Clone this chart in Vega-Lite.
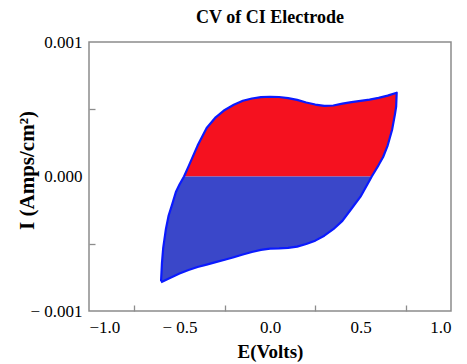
{
  "$schema": "https://vega.github.io/schema/vega-lite/v6.json",
  "width": 362,
  "height": 269,
  "autosize": "none",
  "padding": {"left": 89, "top": 42, "right": 16, "bottom": 53},
  "background": "white",
  "title": {"text": "CV of CI Electrode", "font": "Liberation Serif", "fontSize": 18, "fontWeight": "bold", "color": "black", "offset": 6, "anchor": "middle"},
  "config": {"font": "Liberation Serif", "view": {"stroke": "#8c8c8c", "strokeWidth": 1.5}, "axis": {"labelFont": "Liberation Serif", "titleFont": "Liberation Serif"}},
  "datasets": {
    "fill": [
      {"part": "pos", "E": -0.475, "top": 0, "bottom": 0},
      {"part": "pos", "E": -0.45, "top": 0.000075, "bottom": 0},
      {"part": "pos", "E": -0.4, "top": 0.00023, "bottom": 0},
      {"part": "pos", "E": -0.35, "top": 0.00036, "bottom": 0},
      {"part": "pos", "E": -0.3, "top": 0.00044, "bottom": 0},
      {"part": "pos", "E": -0.25, "top": 0.000495, "bottom": 0},
      {"part": "pos", "E": -0.2, "top": 0.000533, "bottom": 0},
      {"part": "pos", "E": -0.15, "top": 0.000563, "bottom": 0},
      {"part": "pos", "E": -0.1, "top": 0.00058, "bottom": 0},
      {"part": "pos", "E": -0.05, "top": 0.00059, "bottom": 0},
      {"part": "pos", "E": 0, "top": 0.000593, "bottom": 0},
      {"part": "pos", "E": 0.05, "top": 0.000591, "bottom": 0},
      {"part": "pos", "E": 0.1, "top": 0.000583, "bottom": 0},
      {"part": "pos", "E": 0.15, "top": 0.00057, "bottom": 0},
      {"part": "pos", "E": 0.2, "top": 0.00055, "bottom": 0},
      {"part": "pos", "E": 0.25, "top": 0.000535, "bottom": 0},
      {"part": "pos", "E": 0.3, "top": 0.000525, "bottom": 0},
      {"part": "pos", "E": 0.35, "top": 0.000528, "bottom": 0},
      {"part": "pos", "E": 0.4, "top": 0.000542, "bottom": 0},
      {"part": "pos", "E": 0.45, "top": 0.000553, "bottom": 0},
      {"part": "pos", "E": 0.5, "top": 0.000562, "bottom": 0},
      {"part": "pos", "E": 0.55, "top": 0.000572, "bottom": 0},
      {"part": "pos", "E": 0.562, "top": 0.000574, "bottom": 0},
      {"part": "pos", "E": 0.6, "top": 0.000585, "bottom": 0.000085},
      {"part": "pos", "E": 0.625, "top": 0.000593, "bottom": 0.000145},
      {"part": "pos", "E": 0.65, "top": 0.000601, "bottom": 0.00023},
      {"part": "pos", "E": 0.675, "top": 0.00061, "bottom": 0.00035},
      {"part": "pos", "E": 0.69, "top": 0.000617, "bottom": 0.00046},
      {"part": "pos", "E": 0.697, "top": 0.00062, "bottom": 0.00052},
      {"part": "pos", "E": 0.7, "top": 0.000623, "bottom": 0.00062},
      {"part": "neg", "E": -0.602, "top": -0.00078, "bottom": -0.000787},
      {"part": "neg", "E": -0.597, "top": -0.000645, "bottom": -0.000783},
      {"part": "neg", "E": -0.59, "top": -0.00053, "bottom": -0.000778},
      {"part": "neg", "E": -0.575, "top": -0.00039, "bottom": -0.000766},
      {"part": "neg", "E": -0.56, "top": -0.00029, "bottom": -0.000758},
      {"part": "neg", "E": -0.54, "top": -0.000205, "bottom": -0.000745},
      {"part": "neg", "E": -0.52, "top": -0.000115, "bottom": -0.000732},
      {"part": "neg", "E": -0.5, "top": -0.00006, "bottom": -0.000721},
      {"part": "neg", "E": -0.475, "top": 0, "bottom": -0.000709},
      {"part": "neg", "E": -0.45, "top": 0, "bottom": -0.000695},
      {"part": "neg", "E": -0.4, "top": 0, "bottom": -0.000673},
      {"part": "neg", "E": -0.35, "top": 0, "bottom": -0.000655},
      {"part": "neg", "E": -0.3, "top": 0, "bottom": -0.000637},
      {"part": "neg", "E": -0.25, "top": 0, "bottom": -0.000619},
      {"part": "neg", "E": -0.2, "top": 0, "bottom": -0.0006},
      {"part": "neg", "E": -0.15, "top": 0, "bottom": -0.00058},
      {"part": "neg", "E": -0.1, "top": 0, "bottom": -0.000561},
      {"part": "neg", "E": -0.05, "top": 0, "bottom": -0.000546},
      {"part": "neg", "E": 0, "top": 0, "bottom": -0.000536},
      {"part": "neg", "E": 0.05, "top": 0, "bottom": -0.000534},
      {"part": "neg", "E": 0.1, "top": 0, "bottom": -0.00053},
      {"part": "neg", "E": 0.15, "top": 0, "bottom": -0.000521},
      {"part": "neg", "E": 0.2, "top": 0, "bottom": -0.000502},
      {"part": "neg", "E": 0.25, "top": 0, "bottom": -0.000477},
      {"part": "neg", "E": 0.3, "top": 0, "bottom": -0.00044},
      {"part": "neg", "E": 0.35, "top": 0, "bottom": -0.000392},
      {"part": "neg", "E": 0.4, "top": 0, "bottom": -0.00033},
      {"part": "neg", "E": 0.45, "top": 0, "bottom": -0.00024},
      {"part": "neg", "E": 0.5, "top": 0, "bottom": -0.00015},
      {"part": "neg", "E": 0.55, "top": 0, "bottom": -0.00003},
      {"part": "neg", "E": 0.562, "top": 0, "bottom": 0}
    ],
    "loop": [
      {"i": 1, "E": -0.602, "I": -0.00078},
      {"i": 2, "E": -0.597, "I": -0.000645},
      {"i": 3, "E": -0.59, "I": -0.00053},
      {"i": 4, "E": -0.575, "I": -0.00039},
      {"i": 5, "E": -0.56, "I": -0.00029},
      {"i": 6, "E": -0.54, "I": -0.000205},
      {"i": 7, "E": -0.52, "I": -0.000115},
      {"i": 8, "E": -0.5, "I": -0.00006},
      {"i": 9, "E": -0.475, "I": 0},
      {"i": 10, "E": -0.45, "I": 0.000075},
      {"i": 11, "E": -0.4, "I": 0.00023},
      {"i": 12, "E": -0.35, "I": 0.00036},
      {"i": 13, "E": -0.3, "I": 0.00044},
      {"i": 14, "E": -0.25, "I": 0.000495},
      {"i": 15, "E": -0.2, "I": 0.000533},
      {"i": 16, "E": -0.15, "I": 0.000563},
      {"i": 17, "E": -0.1, "I": 0.00058},
      {"i": 18, "E": -0.05, "I": 0.00059},
      {"i": 19, "E": 0, "I": 0.000593},
      {"i": 20, "E": 0.05, "I": 0.000591},
      {"i": 21, "E": 0.1, "I": 0.000583},
      {"i": 22, "E": 0.15, "I": 0.00057},
      {"i": 23, "E": 0.2, "I": 0.00055},
      {"i": 24, "E": 0.25, "I": 0.000535},
      {"i": 25, "E": 0.3, "I": 0.000525},
      {"i": 26, "E": 0.35, "I": 0.000528},
      {"i": 27, "E": 0.4, "I": 0.000542},
      {"i": 28, "E": 0.45, "I": 0.000553},
      {"i": 29, "E": 0.5, "I": 0.000562},
      {"i": 30, "E": 0.55, "I": 0.000572},
      {"i": 31, "E": 0.6, "I": 0.000585},
      {"i": 32, "E": 0.65, "I": 0.000601},
      {"i": 33, "E": 0.7, "I": 0.000623},
      {"i": 34, "E": 0.697, "I": 0.00052},
      {"i": 35, "E": 0.69, "I": 0.00046},
      {"i": 36, "E": 0.675, "I": 0.00035},
      {"i": 37, "E": 0.65, "I": 0.00023},
      {"i": 38, "E": 0.625, "I": 0.000145},
      {"i": 39, "E": 0.6, "I": 0.000085},
      {"i": 40, "E": 0.562, "I": 0},
      {"i": 41, "E": 0.55, "I": -0.00003},
      {"i": 42, "E": 0.5, "I": -0.00015},
      {"i": 43, "E": 0.45, "I": -0.00024},
      {"i": 44, "E": 0.4, "I": -0.00033},
      {"i": 45, "E": 0.35, "I": -0.000392},
      {"i": 46, "E": 0.3, "I": -0.00044},
      {"i": 47, "E": 0.25, "I": -0.000477},
      {"i": 48, "E": 0.2, "I": -0.000502},
      {"i": 49, "E": 0.15, "I": -0.000521},
      {"i": 50, "E": 0.1, "I": -0.00053},
      {"i": 51, "E": 0.05, "I": -0.000534},
      {"i": 52, "E": 0, "I": -0.000536},
      {"i": 53, "E": -0.05, "I": -0.000546},
      {"i": 54, "E": -0.1, "I": -0.000561},
      {"i": 55, "E": -0.15, "I": -0.00058},
      {"i": 56, "E": -0.2, "I": -0.0006},
      {"i": 57, "E": -0.25, "I": -0.000619},
      {"i": 58, "E": -0.3, "I": -0.000637},
      {"i": 59, "E": -0.35, "I": -0.000655},
      {"i": 60, "E": -0.4, "I": -0.000673},
      {"i": 61, "E": -0.45, "I": -0.000695},
      {"i": 62, "E": -0.5, "I": -0.000721},
      {"i": 63, "E": -0.55, "I": -0.000752},
      {"i": 64, "E": -0.602, "I": -0.000787}
    ]
  },
  "layer": [
    {
      "data": {"name": "fill"},
      "mark": {"type": "area", "opacity": 1},
      "encoding": {
        "x": {
          "field": "E", "type": "quantitative",
          "scale": {"domain": [-1, 1], "nice": false, "zero": false},
          "axis": {
            "values": [-1, -0.75, -0.5, -0.25, 0, 0.25, 0.5, 0.75, 1],
            "labelExpr": "datum.value == -1 ? '−1.0' : datum.value == -0.5 ? '− 0.5' : datum.value == 0 ? '0.0' : datum.value == 0.5 ? '0.5' : datum.value == 1 ? '1.0' : ''",
            "title": "E(Volts)",
            "domain": false, "grid": false,
            "tickSize": -6, "tickColor": "#8c8c8c", "tickWidth": 1.3,
            "tickOpacity": {"condition": {"test": "abs(abs(datum.value) - 0.25) < 0.01 || abs(abs(datum.value) - 0.75) < 0.01", "value": 1}, "value": 0},
            "labelFont": "Liberation Serif", "labelFontSize": 17, "labelColor": "black", "labelPadding": 14,
            "titleFont": "Liberation Serif", "titleFontSize": 19, "titleFontWeight": "bold", "titleColor": "black", "titlePadding": 7
          }
        },
        "y": {
          "field": "top", "type": "quantitative",
          "scale": {"domain": [-0.001, 0.001], "nice": false, "zero": false},
          "axis": {
            "values": [-0.001, -0.00075, -0.0005, -0.00025, 0, 0.00025, 0.0005, 0.00075, 0.001],
            "labelExpr": "datum.value == 0.001 ? '0.001' : datum.value == 0 ? '0.000' : datum.value == -0.001 ? '− 0.001' : ''",
            "title": "I (Amps/cm²)",
            "domain": false, "grid": false,
            "tickSize": -6, "tickColor": "#8c8c8c", "tickWidth": 1.3,
            "tickOpacity": {"condition": {"test": "abs(datum.value) > 0.0001 && abs(datum.value) < 0.0009", "value": 1}, "value": 0},
            "labelFont": "Liberation Serif", "labelFontSize": 17, "labelColor": "black", "labelPadding": 13,
            "titleFont": "Liberation Serif", "titleFontSize": 21, "titleFontWeight": "bold", "titleColor": "black", "titlePadding": -8, "titleY": 128
          }
        },
        "y2": {"field": "bottom"},
        "color": {"field": "part", "type": "nominal", "scale": {"domain": ["pos", "neg"], "range": ["#f5111f", "#3a47c9"]}, "legend": null}
      }
    },
    {
      "mark": {"type": "rule", "color": "#7f7f7f", "strokeWidth": 1.5},
      "encoding": {"x": {"datum": 0, "type": "quantitative"}}
    },
    {
      "mark": {"type": "rule", "color": "#7f7f7f", "strokeWidth": 1.5},
      "encoding": {"y": {"datum": 0, "type": "quantitative"}}
    },
    {
      "data": {"name": "loop"},
      "mark": {"type": "line", "color": "#0a1aff", "strokeWidth": 2.2, "strokeJoin": "round"},
      "encoding": {
        "x": {"field": "E", "type": "quantitative"},
        "y": {"field": "I", "type": "quantitative"},
        "order": {"field": "i", "type": "quantitative"}
      }
    }
  ]
}
